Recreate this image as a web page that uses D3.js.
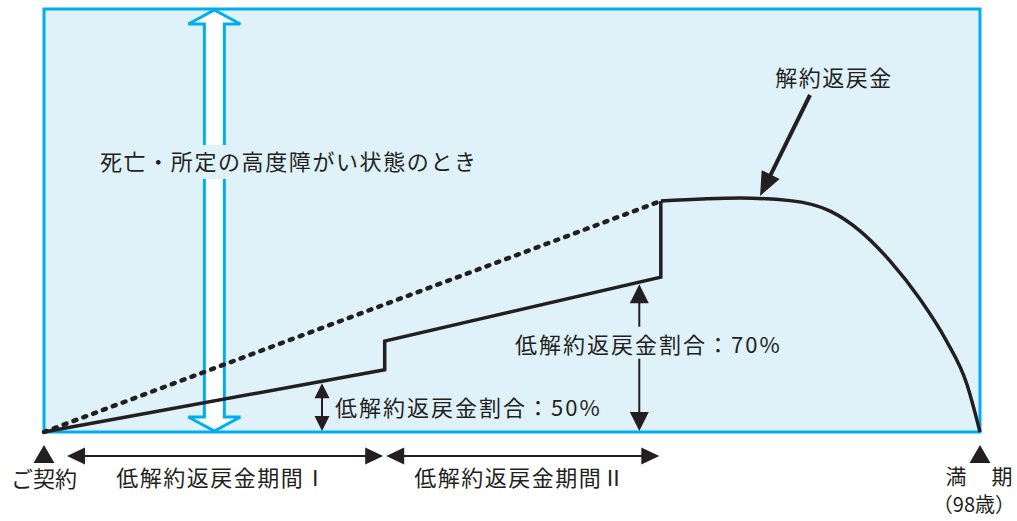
<!DOCTYPE html>
<html>
<head>
<meta charset="utf-8">
<script src="https://cdn.jsdelivr.net/npm/d3@7"></script>
<style>
  html, body { margin: 0; padding: 0; background: #fff; }
  svg { display: block; }
  text { font-family: "Noto Sans CJK JP", "Noto Sans", sans-serif; fill: #231f20; }
</style>
</head>
<body>
<div id="chart"></div>
<script>
// ---- data (x: 0 = ご契約, 100 = 満期; y: relative value) ----
const lowSurrender = [
  { x: 0, y: 0 }, { x: 36.4, y: 14.7 }, { x: 36.4, y: 21.5 },
  { x: 65.9, y: 36.6 }, { x: 65.9, y: 54.6 }
];
const normalSurrender = [{ x: 0, y: 0 }, { x: 65.9, y: 54.6 }];
const afterPeriod = [
  { x: 65.9, y: 54.6 }, { x: 74.4, y: 55.3 }, { x: 79.7, y: 54.7 },
  { x: 84.0, y: 52.2 }, { x: 87.2, y: 47.5 }, { x: 90.4, y: 40.4 },
  { x: 93.6, y: 31.4 }, { x: 96.4, y: 21.6 }, { x: 98.6, y: 11.3 },
  { x: 100, y: 0 }
];
const periodNames  = ["低解約返戻金期間Ⅰ", "低解約返戻金期間Ⅱ"];
const periodBounds = [0, 36.4, 65.9];
const ratioLabels  = ["低解約返戻金割合：50%", "低解約返戻金割合：70%"];
const ratioAt      = [29.7, 63.6];
const deathLabel   = "死亡・所定の高度障がい状態のとき";
const deathAt      = 18.2;
const curveLabel   = "解約返戻金";
const curvePointAt = 76.5;
const startLabel   = "ご契約";
const endLabel     = ["満", "期", "（98歳）"];

(function () {
  const W = 1017, H = 521;
  const MARGIN = { top: 9, right: 37, bottom: 89, left: 44 };
  const INK = "#231f20", BLUE = "#00aeef", FILL = "#dff2fa";

  const svg = d3.select("#chart").append("svg")
    .attr("width", W).attr("height", H);

  const x = d3.scaleLinear().domain([0, 100]).range([MARGIN.left, W - MARGIN.right]);
  const y = d3.scaleLinear().domain([0, 100]).range([H - MARGIN.bottom, MARGIN.top]);
  const y0 = y(0);

  svg.append("rect")
    .attr("x", x(0)).attr("y", y(100))
    .attr("width", x(100) - x(0)).attr("height", y(0) - y(100))
    .attr("fill", FILL).attr("stroke", BLUE).attr("stroke-width", 3);

  // hollow double arrow (death benefit)
  const ax = x(deathAt), top = y(100) + 1, bot = y0 - 1;
  const sh = 10, hw = 26, hl = 14;
  const hollow = [
    [ax, top], [ax + hw, top + hl], [ax + sh, top + hl], [ax + sh, bot - hl],
    [ax + hw, bot - hl], [ax, bot], [ax - hw, bot - hl], [ax - sh, bot - hl],
    [ax - sh, top + hl], [ax - hw, top + hl]
  ];
  svg.append("path")
    .attr("d", d3.line()(hollow) + "Z")
    .attr("fill", "#fff").attr("stroke", BLUE).attr("stroke-width", 3)
    .attr("stroke-linejoin", "miter");

  const line = d3.line().x(d => x(d.x)).y(d => y(d.y));

  svg.append("path").datum(normalSurrender)
    .attr("d", line).attr("fill", "none").attr("stroke", INK)
    .attr("stroke-width", 4.5).attr("stroke-dasharray", "3 7.5")
    .attr("stroke-linecap", "round");

  svg.append("path").datum(lowSurrender)
    .attr("d", line).attr("fill", "none").attr("stroke", INK)
    .attr("stroke-width", 3.5).attr("stroke-linejoin", "miter");

  svg.append("path").datum(afterPeriod)
    .attr("d", line.curve(d3.curveMonotoneX)).attr("fill", "none")
    .attr("stroke", INK).attr("stroke-width", 3.5);

  function arrowHead(tx, ty, angle, len, half) {
    const p = [[0, 0], [-len, -half], [-len, half]].map(([a, b]) => [
      tx + a * Math.cos(angle) - b * Math.sin(angle),
      ty + a * Math.sin(angle) + b * Math.cos(angle)
    ]);
    svg.append("path").attr("d", d3.line()(p) + "Z").attr("fill", INK);
  }

  function doubleArrow(x1, y1, x2, y2, len, half, w) {
    const ang = Math.atan2(y2 - y1, x2 - x1);
    svg.append("line")
      .attr("x1", x1 + Math.cos(ang) * len * 0.8).attr("y1", y1 + Math.sin(ang) * len * 0.8)
      .attr("x2", x2 - Math.cos(ang) * len * 0.8).attr("y2", y2 - Math.sin(ang) * len * 0.8)
      .attr("stroke", INK).attr("stroke-width", w);
    arrowHead(x2, y2, ang, len, half);
    arrowHead(x1, y1, ang + Math.PI, len, half);
  }

  function lowAt(v) {
    // value of the low-surrender line just before the step
    for (let i = 0; i < lowSurrender.length - 1; i++) {
      const a = lowSurrender[i], b = lowSurrender[i + 1];
      if (v >= a.x && v <= b.x && b.x > a.x) return a.y + (b.y - a.y) * (v - a.x) / (b.x - a.x);
    }
    return 0;
  }

  // ratio arrows + labels
  ratioAt.forEach((v, i) => {
    const px = x(v), ytop = y(lowAt(v)) + 2;
    const big = i === 1;
    doubleArrow(px, ytop, px, y0 - 1, big ? 19 : 15, big ? 9.5 : 7.5, 2);
    const ly = big ? 345 : 408;
    const lx = big ? 515 : px + 13;
    const g = svg.append("g");
    const t = g.append("text").attr("x", lx).attr("y", ly)
      .attr("dy", "0.35em").attr("font-size", 22).attr("letter-spacing", 2)
      .text(ratioLabels[i]);
    if (big) {
      const bb = t.node().getBBox();
      g.insert("rect", "text").attr("x", bb.x).attr("y", bb.y)
        .attr("width", bb.width).attr("height", bb.height).attr("fill", FILL);
    }
  });

  // death label with background
  const dg = svg.append("g");
  const dt = dg.append("text").attr("x", 100).attr("y", 162).attr("dy", "0.35em")
    .attr("font-size", 22).attr("letter-spacing", 1.6).text(deathLabel);
  const db = dt.node().getBBox();
  dg.insert("rect", "text").attr("x", db.x - 4).attr("y", 145)
    .attr("width", db.width + 8).attr("height", 34).attr("fill", FILL);

  // 解約返戻金 pointer
  const tipX = x(curvePointAt), tipY = y(55.3) - 2;
  svg.append("line").attr("x1", 810).attr("y1", 95)
    .attr("x2", tipX + 8).attr("y2", tipY - 16)
    .attr("stroke", INK).attr("stroke-width", 4);
  arrowHead(tipX, tipY, Math.atan2(tipY - 95, tipX - 810), 24, 10);
  svg.append("text").attr("x", 834).attr("y", 78).attr("dy", "0.35em")
    .attr("text-anchor", "middle").attr("font-size", 22).attr("letter-spacing", 1.5)
    .text(curveLabel);

  // period arrows
  const py = 456;
  periodNames.forEach((name, i) => {
    const a = x(periodBounds[i]) + (i === 0 ? 23 : 1.5);
    const b = x(periodBounds[i + 1]) - 1.5;
    doubleArrow(a, py, b, py, 18, 8.5, 2);
    svg.append("text").attr("x", (i === 0 ? 222 : 520)).attr("y", 478).attr("dy", "0.35em")
      .attr("text-anchor", "middle").attr("font-size", 22).attr("letter-spacing", 1.5)
      .text(name);
  });

  // start / end markers
  const tri = d3.symbol().type(d3.symbolTriangle).size(190);
  [0, 100].forEach(v => {
    svg.append("path").attr("d", tri)
      .attr("transform", `translate(${x(v)},${457})`).attr("fill", INK);
  });
  svg.append("text").attr("x", x(0)).attr("y", 479).attr("dy", "0.35em")
    .attr("text-anchor", "middle").attr("font-size", 22).text(startLabel);
  svg.append("text").attr("x", 956).attr("y", 477).attr("dy", "0.35em")
    .attr("text-anchor", "middle").attr("font-size", 21).text(endLabel[0]);
  svg.append("text").attr("x", 1002).attr("y", 477).attr("dy", "0.35em")
    .attr("text-anchor", "middle").attr("font-size", 21).text(endLabel[1]);
  svg.append("text").attr("x", 1015).attr("y", 505).attr("dy", "0.35em")
    .attr("text-anchor", "end").attr("font-size", 20).text(endLabel[2]);
})();
</script>
</body>
</html>
